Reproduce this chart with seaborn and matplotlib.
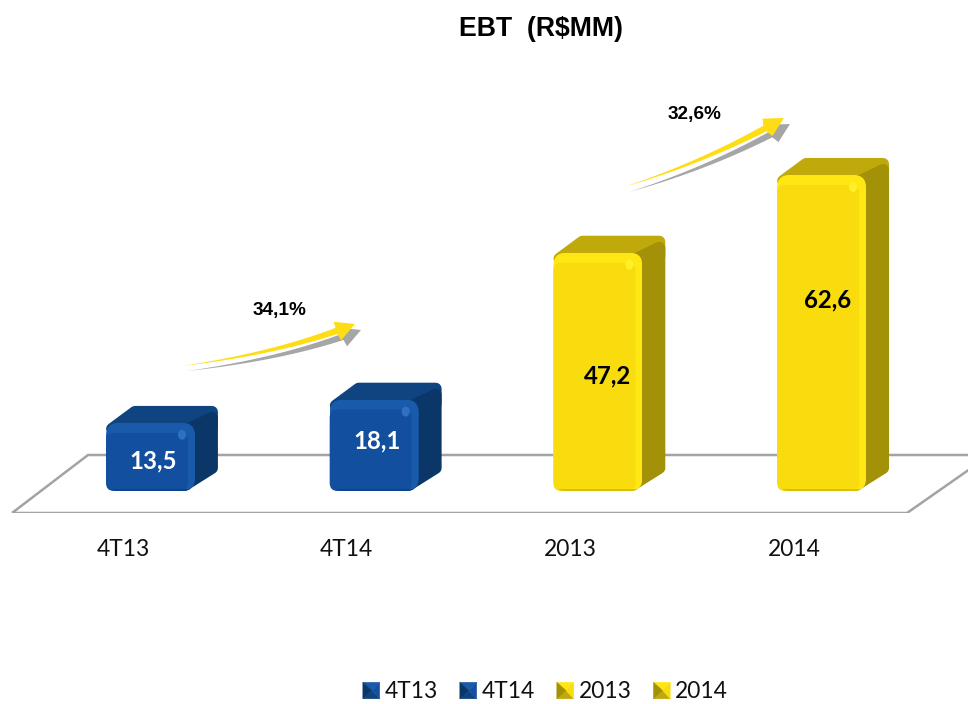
import numpy as np
import pandas as pd
import matplotlib
matplotlib.use("Agg")
import matplotlib.pyplot as plt
import seaborn as sns
from matplotlib.legend_handler import HandlerBase
from matplotlib.patches import Ellipse, FancyBboxPatch, Patch, Polygon, Rectangle
from matplotlib.transforms import Affine2D

# data
periods = ["4T13", "4T14", "2013", "2014"]
ebt = [13.5, 18.1, 47.2, 62.6]
ebt_labels = ["13,5", "18,1", "47,2", "62,6"]
growth_labels = ["34,1%", "32,6%"]

W, H = 968, 704
BASE_PX, FLOOR_PX = 491, 513
PX_PER_UNIT = 5.05
X0_PX, STEP_PX = 150.5, 223.7

# colours: face, rim, top, side, shine, bottom edge
BLUE = ("#12509F", "#1A5AAB", "#0F4480", "#0B3768", "#2F70C0", "#0D4388")
YELLOW = ("#F9DC0E", "#FFE714", "#BFA90B", "#A39108", "#FFF02A", "#D9BE0A")
schemes = [BLUE, BLUE, YELLOW, YELLOW]
label_colors = ["white", "white", "black", "black"]

sns.set_theme(style="white")
plt.rcParams["font.family"] = ["Lato", "DejaVu Sans"]

fig = plt.figure(figsize=(W / 100, H / 100), dpi=100)
ax = fig.add_axes([0, (H - FLOOR_PX) / H, 1, FLOOR_PX / H])
ax.patch.set_alpha(0)

df = pd.DataFrame({"periodo": periods, "ebt": ebt})
sns.barplot(data=df, x="periodo", y="ebt", hue="periodo",
            palette=[s[1] for s in schemes], width=0.398, legend=False,
            saturation=1, linewidth=0, ax=ax, zorder=3)

ax.set_xlim(-X0_PX / STEP_PX, (W - X0_PX) / STEP_PX)
ax.set_ylim(-(FLOOR_PX - BASE_PX) / PX_PER_UNIT, BASE_PX / PX_PER_UNIT)
ax.set_yticks([])
ax.set_xlabel("")
ax.set_ylabel("")
ax.tick_params(axis="x", length=0, pad=18.5, labelsize=16.4, labelcolor="#111111")
sns.despine(ax=ax, left=True, bottom=True)
# the labels sit left of the bars in the original
for lab in ax.get_xticklabels():
    lab.set_transform(lab.get_transform() + Affine2D().translate(-27.5, 0))

# top-down pixel coordinates, like the screenshot
px = Affine2D().scale(1, -1).translate(0, H)


def bar_box(bar):
    (x0, y0), (x1, y1) = ax.transData.transform(
        [(bar.get_x(), bar.get_y()), (bar.get_x() + bar.get_width(), bar.get_height())])
    return x0, H - y1, x1, H - y0


# floor
ax.add_patch(Polygon([(12, 513), (88, 455), (990, 455), (907, 513)], closed=True,
                     fill=False, edgecolor="#A3A3A3", linewidth=1.8,
                     transform=px, clip_on=True, zorder=1))

# bars get rounded corners and a 3d body
DX, DY = 23, 17
R = 6
for bar, (face, rim, top, side, shine, edge) in zip(ax.patches, schemes):
    left, ytop, right, ybot = bar_box(bar)
    outer = FancyBboxPatch((left + 11, ytop + 11), right - left - 22, ybot - ytop - 22,
                           boxstyle="round,pad=11,rounding_size=13", transform=px,
                           facecolor="none", edgecolor="none", zorder=3)
    ax.add_patch(outer)
    bar.set_clip_path(outer)

    # back faces, thick round joins make the corners soft
    ax.add_patch(Polygon([(left + 6, ytop + 6), (left + 6 + DX, ytop - DY + R),
                          (right + DX - R, ytop - DY + R), (right + DX - R, ytop + 4),
                          (right - 8, ytop + 12)],
                         closed=True, transform=px, facecolor=top, edgecolor=top,
                         linewidth=8.5, joinstyle="round", zorder=2))
    ax.add_patch(Polygon([(right - 10, ytop + 8), (right + DX - R, ytop - DY + R + 6),
                          (right + DX - R, ybot - DY - R), (right - 10, ybot - R)],
                         closed=True, transform=px, facecolor=side, edgecolor=side,
                         linewidth=8.5, joinstyle="round", zorder=2))

    ax.add_patch(FancyBboxPatch((left + 6, ytop + 16), right - left - 19, ybot - ytop - 22,
                                boxstyle="round,pad=6,rounding_size=8", transform=px,
                                facecolor=face, edgecolor="none", zorder=4))
    shade = Rectangle((left, ybot - 2.5), right - left, 2.5, transform=px,
                      facecolor=edge, edgecolor="none", zorder=5)
    ax.add_patch(shade)
    shade.set_clip_path(outer)
    ax.add_patch(Ellipse((right - 13, ytop + 12), 8, 10, transform=px,
                         facecolor=shine, edgecolor="none", zorder=5))

# value labels
label_pos = [(153, 461), (377, 441), (608, 376), (828, 300)]
for txt, (x, y), c in zip(ebt_labels, label_pos, label_colors):
    ax.text(x, y, txt, transform=px, ha="center", va="center", fontsize=17.3,
            fontweight="bold", color=c, zorder=6)


def swoosh(tail, ctrl, tip, color, zorder):
    # tapered curved arrow
    t = np.linspace(0, 1, 40)[:, None]
    tail, ctrl, tip = map(np.array, (tail, ctrl, tip))
    line = (1 - t) ** 2 * tail + 2 * t * (1 - t) * ctrl + t ** 2 * tip
    d = tip - ctrl
    d = d / np.hypot(*d)
    n = np.array([-d[1], d[0]])
    neck = line[-1] - 19 * d
    keep = line[(line - neck) @ d < 0]
    tn = np.gradient(keep, axis=0)
    tn = tn / np.hypot(tn[:, 0], tn[:, 1])[:, None]
    nn = np.column_stack([-tn[:, 1], tn[:, 0]])
    w = np.linspace(0, 3.2, len(keep))[:, None]
    upper, lower = keep - nn * w, keep + nn * w
    pts = np.vstack([upper, [neck - n * 10], [tip], [neck + n * 10], lower[::-1]])
    ax.add_patch(Polygon(pts, closed=True, transform=px, facecolor=color,
                         edgecolor="none", clip_on=False, zorder=zorder))


for tail, ctrl, tip in [((182, 366), (285, 352), (355, 324)),
                        ((624, 187), (710, 160), (784, 118))]:
    swoosh((tail[0] + 5, tail[1] + 5), (ctrl[0] + 6, ctrl[1] + 6), (tip[0] + 6, tip[1] + 6), "#A6A6A6", 2)
    swoosh(tail, ctrl, tip, "#FFDD15", 3)

for txt, (x, y) in zip(growth_labels, [(279.5, 311), (694.5, 114)]):
    ax.text(x, y, txt, transform=px, ha="center", va="center", fontsize=13.7,
            fontweight="bold", color="black", family=["Liberation Sans"])

ax.text(541, 29, "EBT  (R$MM)", transform=px, ha="center", va="center",
        fontsize=19.2, fontweight="bold", color="black", family=["Liberation Sans"])


class PyramidHandler(HandlerBase):
    # legend key: little bevelled square
    def create_artists(self, legend, orig, xd, yd, width, height, fontsize, trans):
        x0, y0 = -xd, -yd
        x1, y1 = x0 + width, y0 + height
        c = (x0 + width * 0.55, y0 + height * 0.5)
        face, rim, top, side = orig.scheme[:4]
        tris = [([(x0, y1), (x1, y1), c], rim), ([(x0, y0), (x1, y0), c], top),
                ([(x0, y0), (x0, y1), c], side), ([(x1, y0), (x1, y1), c], face)]
        return [Polygon(p, closed=True, facecolor=col, edgecolor=col, linewidth=0.3, transform=trans)
                for p, col in tris]


handles = []
for name, s in zip(periods, schemes):
    h = Patch(facecolor=s[0], label=name)
    h.scheme = s
    handles.append(h)
leg = ax.legend(handles=handles, ncol=4, loc="center", bbox_to_anchor=(545.5, 692),
                bbox_transform=px, frameon=False, fontsize=16.4,
                handler_map={Patch: PyramidHandler()}, handlelength=0.74,
                handleheight=0.74, handletextpad=0.22, columnspacing=0.96,
                borderpad=0, borderaxespad=0)
for t in leg.get_texts():
    t.set_color("#111111")

fig.savefig("out.png", dpi=100)
